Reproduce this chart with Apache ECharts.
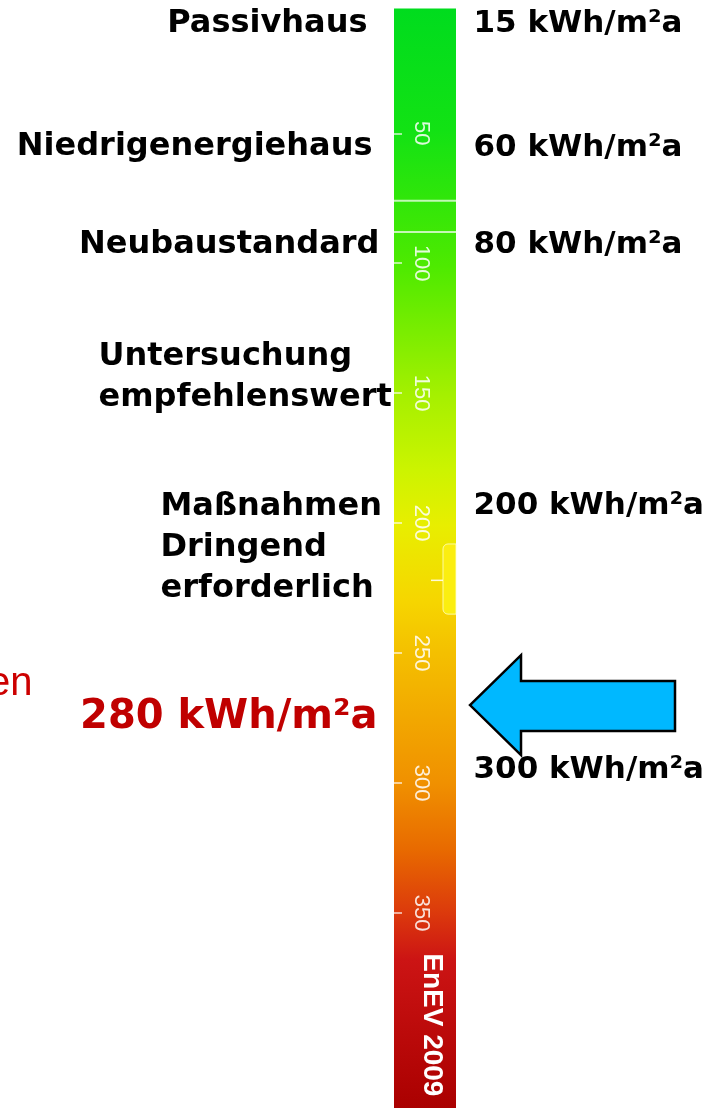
<!DOCTYPE html>
<html>
<head>
<meta charset="utf-8">
<title>Energiebedarf EnEV 2009</title>
<script src="https://cdn.jsdelivr.net/npm/echarts@6/dist/echarts.min.js"></script>
<style>
  html, body { margin: 0; padding: 0; background: #fff; }
  #chart { width: 715px; height: 1108px; }
</style>
</head>
<body>
<div id="chart"></div>
<script>
// scale in kWh/m²a
const scaleMin = 0;
const scaleMax = 425;
const tickValues = [50, 100, 150, 200, 250, 300, 350];
const barRange = [2, 425];
const dividerAt = [76, 88];
const markerRange = [208, 235];
const markerTickAt = 222;

const leftLabels = ['Passivhaus', 'Niedrigenergiehaus', 'Neubaustandard', 'Untersuchung\nempfehlenswert', 'Maßnahmen\nDringend\nerforderlich'];
const leftLabelAt = [8, 55, 93, 144, 209.5];
const rightLabels = ['15 kWh/m²a', '60 kWh/m²a', '80 kWh/m²a', '200 kWh/m²a', '300 kWh/m²a'];
const rightLabelAt = [8, 55.5, 93, 193.5, 295];

const measuredValue = 280;
const measuredLabelAt = 275;
const arrowAt = 270;
const captionText = 'EnEV 2009';
const captionAt = 393;
const fragmentText = 'en';
const fragmentAt = 262;

// layout (px)
const BAR_X = [394, 456];
const MARKER_X = [443, 456];
const LEFT_LAYOUT = [
  { x: 368, align: 'right' },
  { x: 373, align: 'right' },
  { x: 380, align: 'right' },
  { x: 98, align: 'left' },
  { x: 160, align: 'left' }
];
const RIGHT_X = 473;
const MEASURED_X = 378;
const ARROW_TIP_X = 470;
const CAPTION_X = 432;
const FRAGMENT_X = 33;

const barGradient = new echarts.graphic.LinearGradient(0, 0, 0, 1, [
  { offset: 0, color: '#00dc1e' },
  { offset: 0.11, color: '#12e214' },
  { offset: 0.235, color: '#4eea00' },
  { offset: 0.353, color: '#a6f000' },
  { offset: 0.42, color: '#ccf400' },
  { offset: 0.47, color: '#e8ee00' },
  { offset: 0.538, color: '#f6d600' },
  { offset: 0.585, color: '#f4c000' },
  { offset: 0.705, color: '#f09000' },
  { offset: 0.765, color: '#e86a00' },
  { offset: 0.822, color: '#dc3a0c' },
  { offset: 0.865, color: '#cc1414' },
  { offset: 1, color: '#aa0000' }
]);

const boldText = { fontFamily: 'DejaVu Sans', fontWeight: 'bold', fontSize: 32, color: '#000', opacity: 1 };
// invisible anchor points for text; scatter defaults to 0.8 opacity, so reset it
const hiddenItem = { color: 'rgba(0,0,0,0)', opacity: 1 };

const chart = echarts.init(document.getElementById('chart'));
chart.setOption({
  animation: false,
  grid: { left: 0, right: 0, top: 3.3, bottom: 0 },
  xAxis: { type: 'value', min: 0, max: 715, show: false },
  yAxis: {
    type: 'value',
    inverse: true,
    min: scaleMin,
    max: scaleMax,
    offset: -BAR_X[0],
    axisLine: { show: false },
    splitLine: { show: false },
    axisTick: {
      show: true, inside: true, length: 8, customValues: tickValues,
      lineStyle: { color: 'rgba(255,255,255,0.8)', width: 1.5 }
    },
    axisLabel: {
      inside: true, rotate: -90, margin: 16, customValues: tickValues,
      color: 'rgba(255,255,255,0.85)', fontFamily: 'Liberation Sans', fontSize: 22
    },
    z: 10
  },
  series: [
    {
      // the coloured scale
      type: 'custom',
      silent: true,
      data: [[0, barRange[0], barRange[1]]],
      renderItem: (params, api) => {
        const p0 = api.coord([BAR_X[0], api.value(1)]);
        const p1 = api.coord([BAR_X[1], api.value(2)]);
        return {
          type: 'rect',
          shape: { x: p0[0], y: p0[1], width: p1[0] - p0[0], height: p1[1] - p0[1] },
          style: { fill: barGradient }
        };
      },
      z: 1
    },
    {
      // thin white dividers in the green part
      type: 'custom',
      silent: true,
      data: dividerAt.map(v => [0, v]),
      renderItem: (params, api) => {
        const a = api.coord([BAR_X[0], api.value(1)]);
        const b = api.coord([BAR_X[1], api.value(1)]);
        return {
          type: 'line',
          shape: { x1: a[0], y1: a[1], x2: b[0], y2: b[1] },
          style: { stroke: 'rgba(255,255,255,0.7)', lineWidth: 2 }
        };
      },
      z: 2
    },
    {
      // small yellow tab on the right edge
      type: 'custom',
      silent: true,
      data: [[0, markerRange[0], markerRange[1], markerTickAt]],
      renderItem: (params, api) => {
        const p0 = api.coord([MARKER_X[0], api.value(1)]);
        const p1 = api.coord([MARKER_X[1], api.value(2)]);
        const t = api.coord([MARKER_X[0], api.value(3)]);
        return {
          type: 'group',
          children: [
            {
              type: 'rect',
              shape: { x: p0[0], y: p0[1], width: p1[0] - p0[0], height: p1[1] - p0[1], r: [5, 0, 0, 5] },
              style: { fill: '#fbee10', stroke: 'rgba(255,255,200,0.8)', lineWidth: 1 }
            },
            {
              type: 'line',
              shape: { x1: t[0] - 12, y1: t[1], x2: t[0], y2: t[1] },
              style: { stroke: 'rgba(255,255,255,0.85)', lineWidth: 1.5 }
            }
          ]
        };
      },
      z: 3
    },
    {
      // arrow pointing at the measured value
      type: 'custom',
      silent: true,
      data: [[0, arrowAt]],
      renderItem: (params, api) => {
        const c = api.coord([ARROW_TIP_X, api.value(1)]);
        const pts = [[0, 0], [51, -50], [51, -24], [205, -24], [205, 26], [51, 26], [51, 50]]
          .map(p => [c[0] + p[0], c[1] + p[1]]);
        return {
          type: 'polygon',
          shape: { points: pts },
          style: { fill: '#00b8ff', stroke: '#000', lineWidth: 2.5, lineJoin: 'miter' }
        };
      },
      z: 4
    },
    {
      type: 'scatter',
      silent: true,
      symbolSize: 1,
      itemStyle: hiddenItem,
      data: leftLabels.map((t, i) => ({
        name: t,
        value: [LEFT_LAYOUT[i].x, leftLabelAt[i]],
        label: { position: LEFT_LAYOUT[i].align === 'right' ? 'left' : 'right', align: LEFT_LAYOUT[i].align }
      })),
      label: Object.assign({ show: true, distance: 0, formatter: '{b}', lineHeight: 41 }, boldText),
      z: 5
    },
    {
      type: 'scatter',
      silent: true,
      symbolSize: 1,
      itemStyle: hiddenItem,
      data: rightLabels.map((t, i) => ({ name: t, value: [RIGHT_X, rightLabelAt[i]] })),
      label: Object.assign({ show: true, position: 'right', distance: 0, formatter: '{b}' }, boldText, { fontSize: 31 }),
      z: 5
    },
    {
      type: 'scatter',
      silent: true,
      symbolSize: 1,
      itemStyle: hiddenItem,
      data: [
        {
          name: measuredValue + ' kWh/m²a',
          value: [MEASURED_X, measuredLabelAt],
          label: { position: 'left', fontFamily: 'DejaVu Sans', fontWeight: 'bold', fontSize: 40, color: '#c00000' }
        },
        {
          name: fragmentText,
          value: [FRAGMENT_X, fragmentAt],
          label: { position: 'left', fontFamily: 'Liberation Sans', fontWeight: 'normal', fontSize: 40, color: '#cc0000' }
        },
        {
          name: captionText,
          value: [CAPTION_X, captionAt],
          label: { position: 'inside', rotate: -90, fontFamily: 'Liberation Sans', fontWeight: 'bold', fontSize: 28, color: '#fff' }
        }
      ],
      label: { show: true, distance: 0, formatter: '{b}', opacity: 1 },
      z: 6
    }
  ]
});
</script>
</body>
</html>
